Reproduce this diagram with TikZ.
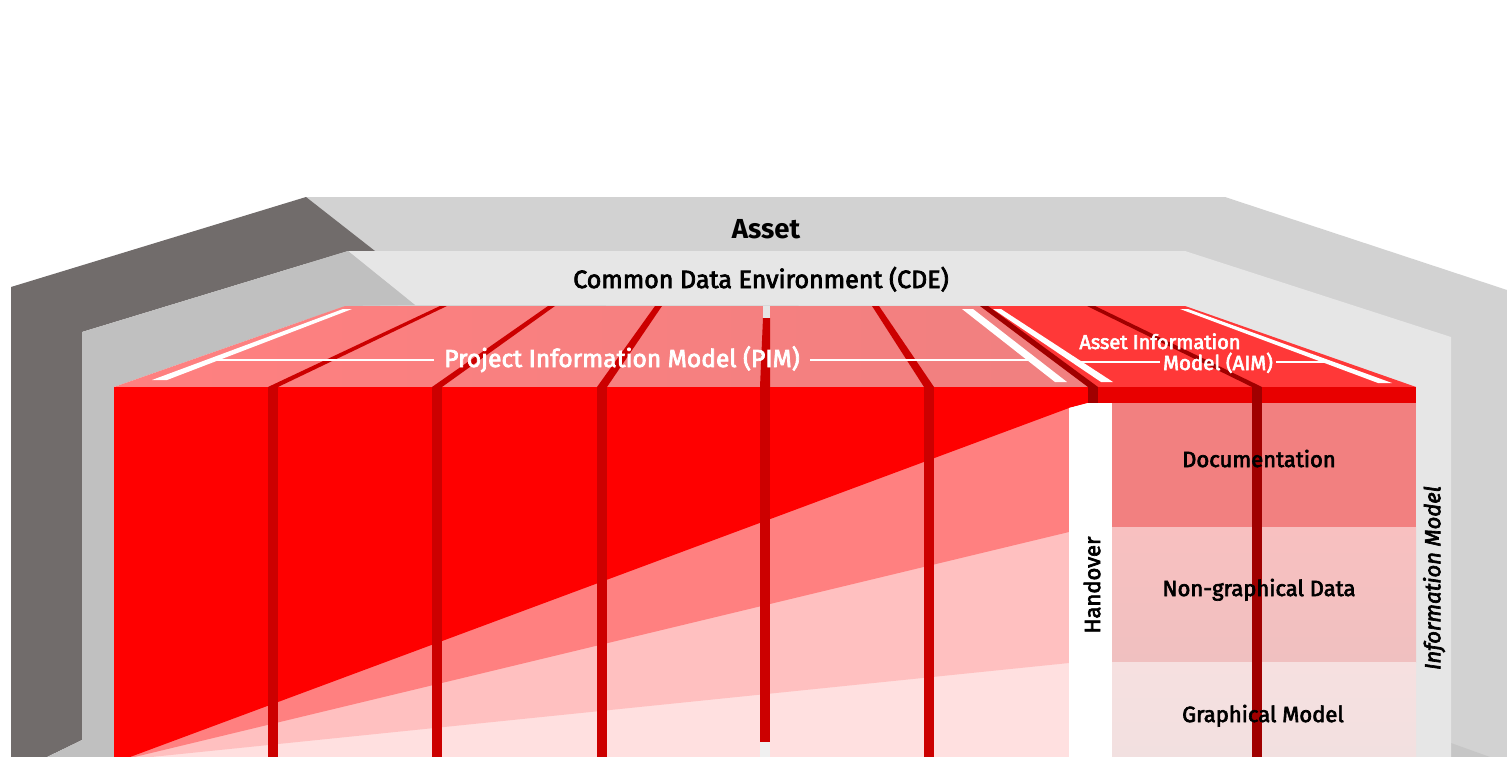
\documentclass[tikz,border=0pt]{standalone}
\usepackage{fontspec}
\setmainfont{Fira Sans}
\newfontfamily\medfont{Fira Sans}[FakeBold=3]
\usepackage{tikz}
\usetikzlibrary{positioning}
\definecolor{assetgray}{HTML}{D2D2D2}
\definecolor{walldark}{HTML}{716C6B}
\definecolor{cdewall}{HTML}{C0C0C0}
\definecolor{cdegray}{HTML}{E6E6E6}
\definecolor{floorgray}{HTML}{C6C6C6}
\definecolor{pimtopL}{HTML}{FF8080}
\definecolor{pimtopR}{HTML}{F08080}
\definecolor{aimtop}{HTML}{FF3838}
\definecolor{pimred}{HTML}{FF0000}
\definecolor{pillar}{HTML}{CC0000}
\definecolor{darkred}{HTML}{A00000}
\definecolor{aimband}{HTML}{E80000}
\definecolor{band1}{HTML}{FF8080}
\definecolor{band2}{HTML}{FFC0C0}
\definecolor{band3}{HTML}{FFE0E0}
\definecolor{doccol}{HTML}{F28080}
\definecolor{ngcolT}{HTML}{F8C0C0}
\definecolor{ngcolB}{HTML}{F0C0C0}
\definecolor{gmcolT}{HTML}{F6E0E0}
\definecolor{gmcolB}{HTML}{F2E0E0}
\tikzset{
  lbl/.style={inner sep=0pt,anchor=base,font=\medfont\fontsize{#1}{#1}\selectfont},
  toplbl/.style={lbl=#1,text=white,inner xsep=10pt},
  hairline/.style={white,line width=1.5pt}
}

\begin{document}
\begin{tikzpicture}[x=1pt,y=-1pt]
\useasboundingbox (0,0) rectangle (1507,757);
%outer asset shell
\fill[assetgray] (306,197) -- (1225,197) -- (1507,290) -- (1507,757) -- (306,757) -- cycle;
\fill[walldark] (11,287) -- (306,197) -- (375,251) -- (348,251) -- (82,332) -- (82,740) -- (47,757) -- (11,757) -- cycle;
\fill[floorgray] (1451,743) -- (1490,757) -- (1451,757) -- cycle;
%common data environment shell
\fill[cdegray] (348,251) -- (1185,251) -- (1451,337) -- (1451,757) -- (1416,757) -- (1416,387) -- (1185,306) -- (415,305) -- cycle;
\fill[cdewall] (82,332) -- (348,251) -- (415,305) -- (345,306) -- (114,387) -- (114,757) -- (47,757) -- (82,740) -- cycle;
%top of pim and aim
\shade[left color=pimtopL,right color=pimtopR] (345,306) -- (980,306) -- (1088,387) -- (114,387) -- cycle;
\fill[aimtop] (980,306) -- (1185,306) -- (1416,387) -- (1088,387) -- cycle;
%stripes on top
\fill[pillar] (440,306) -- (447,306) -- (278,387) -- (268,387) -- cycle;
\fill[pillar] (548,306) -- (555,306) -- (442,387) -- (432,387) -- cycle;
\fill[pillar] (655,306) -- (662,306) -- (607,387) -- (597,387) -- cycle;
\fill[pillar] (763,318) -- (770,318) -- (770,387) -- (760,387) -- cycle;
\fill[cdegray] (763,306) rectangle (770,318);
\fill[pillar] (872,306) -- (879,306) -- (934,387) -- (924,387) -- cycle;
\fill[darkred] (980,306) -- (988,306) -- (1098,387) -- (1088,387) -- cycle;
\fill[darkred] (1087,306) -- (1095,306) -- (1262,387) -- (1252,387) -- cycle;
%white edges on top
\fill[white] (343,309) -- (352,309) -- (167,380) -- (152,380) -- cycle;
\fill[white] (962,309) -- (973,309) -- (1067,382) -- (1055,382) -- cycle;
\fill[white] (993,309) -- (1001,309) -- (1113,382) -- (1101,382) -- cycle;
\fill[white] (1180,309) -- (1188,309) -- (1392,383) -- (1378,383) -- cycle;
%front of pim, fading toward the handover
\begin{scope}
\clip (114,387) rectangle (1069,757);
\fill[band3] (114,387) rectangle (1069,757);
\fill[band2] (122,760) -- (1069,663) -- (1069,387) -- (114,387) -- (114,760) -- cycle;
\fill[band1] (122,760) -- (1069,532) -- (1069,387) -- (114,387) -- (114,760) -- cycle;
\end{scope}
\fill[pimred] (122,760) -- (1069,408) -- (1088,403) -- (1088,387) -- (114,387) -- (114,760) -- cycle;
%pillars on pim front
\fill[pillar] (268,387) rectangle (278,757);
\fill[pillar] (432,387) rectangle (442,757);
\fill[pillar] (597,387) rectangle (607,757);
\fill[pillar] (760,387) rectangle (770,742);
\fill[cdegray!60!white] (760,742) rectangle (770,757);
\fill[pillar] (924,387) rectangle (934,757);
%handover gap
\fill[white] (1069,408) -- (1088,403) -- (1112,403) -- (1112,757) -- (1069,757) -- cycle;
%front of aim
\fill[darkred] (1088,387) rectangle (1098,403);
\fill[aimband] (1098,387) rectangle (1416,403);
\fill[doccol] (1112,403) rectangle (1416,527);
\shade[top color=ngcolT,bottom color=ngcolB] (1112,527) rectangle (1416,662);
\shade[top color=gmcolT,bottom color=gmcolB] (1112,662) rectangle (1416,757);
\fill[darkred] (1252,387) rectangle (1262,757);
%labels
\node[lbl=27.5,font=\bfseries\fontsize{27.5}{27.5}\selectfont] (asset) at (766,238) {Asset};
\node[lbl=25] (cde) at (761,288) {Common Data Environment (CDE)};
\node[toplbl=24.6] (pim) at (622,367) {Project Information Model (PIM)};
\coordinate (pimL) at (216,360);
\coordinate (pimR) at (1033,360);
\draw[hairline] (pimL) -- (pim.west |- pimL);
\draw[hairline] (pim.east |- pimR) -- (pimR);
\node[toplbl=20,inner xsep=0pt] (aim1) at (1160,349) {Asset Information};
\node[toplbl=20.5,inner xsep=3pt] (aim2) at (1218,370) {Model (AIM)};
\coordinate (aimL) at (1078,362);
\coordinate (aimR) at (1332,362);
\draw[hairline] (aimL) -- (aim2.west |- aimL);
\draw[hairline] (aim2.east |- aimR) -- (aimR);
\node[lbl=22,anchor=center,rotate=90] (handover) at (1092,585) {Handover};
\node[lbl=22] (doc) at (1259,467) {Documentation};
\node[lbl=22] (ngdata) at (1259,596) {Non-graphical Data};
\node[lbl=22] (gmodel) at (1263,722) {Graphical Model};
\node[lbl=22,anchor=center,rotate=90,font=\medfont\itshape\fontsize{22}{22}\selectfont] (infomodel) at (1434,578) {Information Model};
\end{tikzpicture}
\end{document}
